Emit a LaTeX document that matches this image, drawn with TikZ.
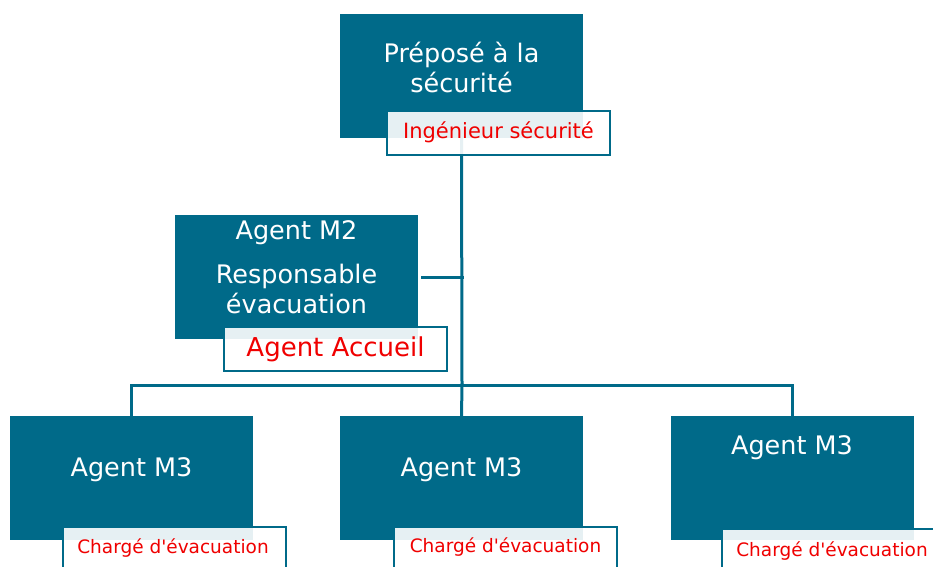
\documentclass[tikz,border=0pt]{standalone}
\usepackage{fontspec}
\setmainfont{DejaVu Sans}
\definecolor{petrol}{RGB}{0,106,137}
\definecolor{tagred}{RGB}{240,0,0}
\begin{document}
\begin{tikzpicture}[x=1pt,y=-1pt,line cap=rect,
    role/.style={fill=petrol,minimum width=243pt,minimum height=124pt,inner sep=0pt},
    roletxt/.style={text=white,align=center,font=\fontsize{25.5}{30}\selectfont},
    tagbox/.style={draw=petrol,line width=1.8pt,fill=white,fill opacity=0.9,
      minimum width=223pt,minimum height=44pt,inner sep=0pt},
    tagtxt/.style={text=tagred,font=\fontsize{#1}{#1}\selectfont},
    tagtxt/.default=19,
    link/.style={draw=petrol,line width=3pt}]
    \useasboundingbox (0,0) rectangle (933,566);
    \clip (0,0) rectangle (933,566);

    % bus of the lower level
    \coordinate (bus) at (462,385);

    % top box
    \node[role] (prep) at (461.5,76) {};
    \node[roletxt] (prepT) at (461.5,67) {Préposé à la\\sécurité};

    % M2 box
    \node[role] (m2) at (296.5,277) {};
    \node[roletxt] (m2T) at (296.5,233) {Agent M2};
    \node[roletxt] (m2R) at (296.5,289) {Responsable\\évacuation};

    % M3 boxes
    \node[role] (m3a) at (131.5,478) {};
    \node[roletxt] (m3aT) at (131.5,470) {Agent M3};
    \node[role] (m3b) at (461.5,478) {};
    \node[roletxt] (m3bT) at (461.5,470) {Agent M3};
    \node[role] (m3c) at (792,478) {};
    \node[roletxt] (m3cT) at (792,448) {Agent M3};

    % connectors
    \draw[link] (prep.south) -- (bus);
    \draw[link] ([xshift=4pt]m2.east) -- (m2.east -| bus);
    \draw[link] (bus -| m3a) -- (bus -| m3c);
    \draw[link] (bus -| m3a) -- (m3a.north);
    \draw[link] (bus) -- (m3b.north);
    \draw[link] (bus -| m3c) -- (m3c.north);

    % red tags
    \node[tagbox] (ing) at (498.5,133) {};
    \node[tagtxt=21] (ingT) at (498.5,132) {Ingénieur sécurité};
    \node[tagbox] (acc) at (335.5,349) {};
    \node[tagtxt=26] (accT) at (335.5,349) {Agent Accueil};
    \node[tagbox] (chA) at (174.5,549) {};
    \node[tagtxt=18.5] (chAT) at (173,548) {Chargé d\textquotesingle évacuation};
    \node[tagbox] (chB) at (505.5,549) {};
    \node[tagtxt=18.5] (chBT) at (505.5,547) {Chargé d\textquotesingle évacuation};
    \node[tagbox] (chC) at (833.5,551) {};
    \node[tagtxt=18.5] (chCT) at (832,551) {Chargé d\textquotesingle évacuation};
  \end{tikzpicture}
\end{document}
